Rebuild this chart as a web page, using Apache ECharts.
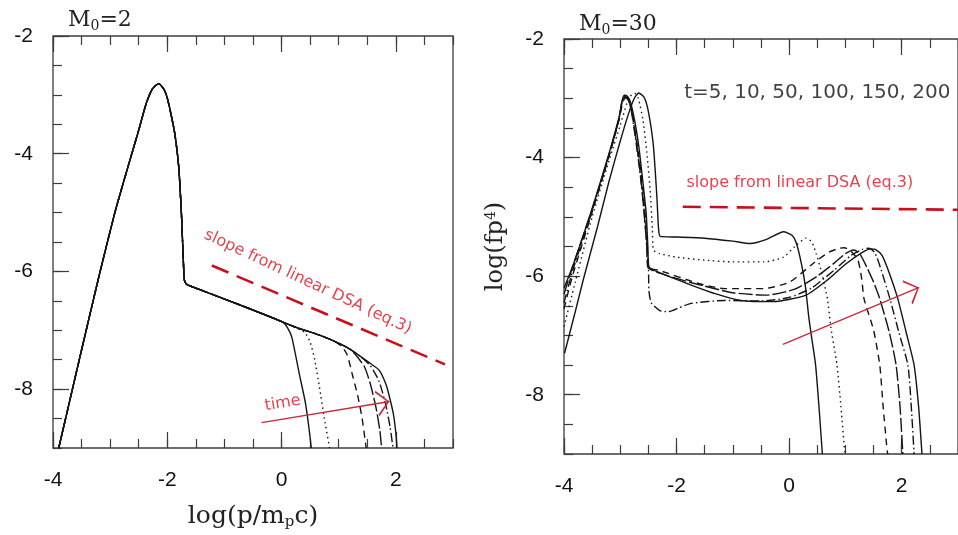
<!DOCTYPE html>
<html><head><meta charset="utf-8">
<script src="https://cdn.jsdelivr.net/npm/echarts@6/dist/echarts.min.js"></script>
<style>html,body{margin:0;padding:0;background:#fff}#c{width:958px;height:535px}</style>
</head><body><div id="c"></div>
<script>
// ---------- axis settings ----------
const xRange = [-4, 3];
const yRange = [-9, -2];
const xMajorTicks = [-4, -2, 0, 2];
const yMajorTicks = [-8, -6, -4, -2];
const minorStep = 0.5;

// ---------- left panel (M0 = 2) ----------
const L_common = [[-3.9,-9],[-3.6,-7.75],[-3.4,-6.92],[-3.18,-6.02],[-2.92,-5.01],[-2.78,-4.53],[-2.645,-4.08],[-2.5,-3.6],[-2.37,-3.15],[-2.26,-2.9],[-2.15,-2.81],[-2.05,-2.92],[-1.99,-3.09],[-1.87,-3.65],[-1.8,-4.22],[-1.75,-5.07],[-1.72,-5.8],[-1.7,-6.15],[-1.66,-6.22],[-1.43,-6.31],[-0.86,-6.52],[-0.28,-6.74],[0.02,-6.86]];
const L_t5   = [[0.1,-6.95],[0.18,-7.12],[0.31,-7.74],[0.42,-8.25],[0.52,-9]];
const L_t10  = [[0.2,-6.94],[0.4,-7.03],[0.5,-7.2],[0.58,-7.5],[0.66,-7.95],[0.75,-8.5],[0.84,-9]];
const L_t50  = [[0.31,-6.97],[0.6,-7.06],[0.89,-7.17],[1.05,-7.27],[1.15,-7.42],[1.24,-7.76],[1.33,-8.1],[1.41,-8.5],[1.48,-9]];
const L_t100 = [[0.31,-6.97],[0.6,-7.06],[0.89,-7.17],[1.18,-7.31],[1.3,-7.42],[1.45,-7.62],[1.55,-7.9],[1.65,-8.3],[1.72,-8.7],[1.75,-9]];
const L_t150 = [[0.31,-6.97],[0.6,-7.06],[0.89,-7.17],[1.18,-7.31],[1.36,-7.43],[1.55,-7.6],[1.7,-7.85],[1.82,-8.25],[1.9,-8.65],[1.95,-9]];
const L_t200 = [[0.31,-6.97],[0.6,-7.06],[0.89,-7.17],[1.18,-7.31],[1.36,-7.43],[1.55,-7.56],[1.71,-7.68],[1.82,-7.9],[1.88,-8.1],[1.96,-8.44],[2.0,-8.75],[2.02,-9]];
const L_slope = [[-1.22,-5.9],[2.86,-7.58]];
const L_arrow = [[-0.35,-8.57],[1.89,-8.21]];
const L_slopeText = [0.46,-6.18];
const L_timeText = [0.02,-8.24];

// ---------- right panel (M0 = 30) ----------
const R_t5   = [[-3.99,-7.3],[-3.8,-6.6],[-3.66,-6.07],[-3.4,-5.15],[-3.2,-4.4],[-3.0,-3.72],[-2.85,-3.25],[-2.75,-3.0],[-2.67,-2.91],[-2.58,-2.98],[-2.52,-3.14],[-2.46,-3.45],[-2.41,-3.82],[-2.35,-4.66],[-2.32,-5.2],[-2.29,-5.33],[-2.0,-5.34],[-1.5,-5.36],[-1.0,-5.41],[-0.69,-5.45],[-0.4,-5.38],[-0.1,-5.25],[0.05,-5.31],[0.13,-5.45],[0.22,-5.8],[0.29,-6.18],[0.35,-6.7],[0.41,-7.1],[0.47,-7.5],[0.53,-8.2],[0.59,-9]];
const R_t10  = [[-4,-6.85],[-3.8,-6.1],[-3.5,-5.0],[-3.2,-4.05],[-3.0,-3.45],[-2.88,-3.08],[-2.8,-2.94],[-2.74,-2.92],[-2.68,-3.0],[-2.6,-3.35],[-2.53,-3.9],[-2.47,-4.55],[-2.43,-5.2],[-2.41,-5.56],[-2.3,-5.62],[-2.0,-5.68],[-1.5,-5.73],[-1.0,-5.76],[-0.45,-5.76],[-0.1,-5.68],[0.1,-5.5],[0.3,-5.36],[0.4,-5.42],[0.48,-5.62],[0.58,-5.95],[0.68,-6.38],[0.74,-6.86],[0.85,-7.5],[0.92,-8.2],[0.99,-9]];
const R_t50  = [[-4,-6.55],[-3.85,-6.0],[-3.5,-4.92],[-3.2,-3.98],[-3.02,-3.36],[-2.96,-3.08],[-2.91,-2.99],[-2.85,-3.04],[-2.78,-3.3],[-2.7,-3.78],[-2.62,-4.35],[-2.56,-4.95],[-2.52,-5.5],[-2.5,-5.86],[-2.32,-5.9],[-1.62,-6.12],[-1.15,-6.21],[-0.45,-6.21],[0.01,-6.1],[0.42,-5.79],[0.7,-5.6],[0.89,-5.53],[0.98,-5.52],[1.1,-5.58],[1.22,-5.72],[1.29,-6.05],[1.33,-6.38],[1.5,-6.91],[1.61,-7.5],[1.67,-8.2],[1.73,-8.83],[1.75,-9]];
const R_t100 = [[-4,-6.3],[-3.85,-5.85],[-3.5,-4.87],[-3.2,-3.95],[-3.02,-3.33],[-2.97,-3.07],[-2.92,-2.97],[-2.86,-3.0],[-2.8,-3.2],[-2.72,-3.7],[-2.64,-4.3],[-2.58,-4.9],[-2.53,-5.5],[-2.51,-5.85],[-2.3,-5.95],[-1.7,-6.12],[-1.0,-6.28],[-0.4,-6.32],[0.1,-6.22],[0.5,-6.0],[0.8,-5.78],[1.0,-5.62],[1.15,-5.56],[1.26,-5.63],[1.38,-5.85],[1.5,-6.1],[1.61,-6.38],[1.78,-6.95],[1.9,-7.5],[1.97,-8.2],[2.02,-9]];
const R_t150 = [[-4,-6.45],[-3.85,-5.92],[-3.5,-4.9],[-3.2,-3.96],[-3.02,-3.34],[-2.97,-3.07],[-2.93,-2.98],[-2.87,-3.0],[-2.81,-3.18],[-2.73,-3.68],[-2.65,-4.25],[-2.58,-4.85],[-2.53,-5.45],[-2.5,-5.85],[-2.49,-6.25],[-2.45,-6.45],[-2.3,-6.58],[-2.15,-6.6],[-1.95,-6.53],[-1.74,-6.46],[-1.15,-6.41],[-0.5,-6.42],[0.0,-6.36],[0.4,-6.2],[0.8,-5.9],[1.1,-5.65],[1.3,-5.55],[1.41,-5.53],[1.52,-5.6],[1.62,-5.85],[1.79,-6.38],[1.95,-6.95],[2.11,-7.5],[2.17,-8.2],[2.22,-9]];
const R_t200 = [[-4,-6.2],[-3.84,-5.82],[-3.49,-4.83],[-3.2,-3.93],[-3.02,-3.31],[-2.97,-3.05],[-2.93,-2.95],[-2.87,-2.97],[-2.82,-3.06],[-2.74,-3.4],[-2.67,-3.82],[-2.6,-4.4],[-2.54,-4.94],[-2.51,-5.5],[-2.49,-5.84],[-2.2,-5.98],[-1.74,-6.15],[-1.3,-6.3],[-0.86,-6.41],[-0.28,-6.43],[0.3,-6.32],[0.7,-6.05],[1.0,-5.8],[1.3,-5.6],[1.45,-5.54],[1.53,-5.55],[1.65,-5.65],[1.78,-5.95],[1.93,-6.38],[2.08,-6.95],[2.22,-7.5],[2.3,-8.2],[2.36,-9]];
const R_slope = [[-1.89,-4.83],[3.0,-4.88]];
const R_arrow = [[-0.11,-7.15],[2.31,-6.19]];
const R_timesText = [0.5,-2.91];
const R_slopeText = [0.19,-4.43];

// ---------- texts ----------
const titleL = '{m|M}{s|0}{m|=2}';
const titleR = '{m|M}{s|0}{m|=30}';
const xName = '{a|log(p/m}{s|p}{a|c)}';
const yName = '{a|log(fp}{u|4}{a|)}';
const timesLabel = 't=5, 10, 50, 100, 150, 200';
const slopeLabel = 'slope from linear DSA (eq.3)';
const timeLabel = 'time';

// ---------- styles ----------
const INK = '#141414';
const AX = '#3c3c3c';
const RED = '#de1320';
const styles = {
  t5:   {type:'solid'},
  t10:  {type:[1.5,3.5]},
  t50:  {type:[7,5]},
  t100: {type:[14,3]},
  t150: {type:[9,3,1.5,3]},
  t200: {type:'solid'}
};
const chevron = 'path://M0,-13 L0.01,-13 Z M0,0 L7,12 L6,12.7 L0,1.9 L-6,12.7 L-7,12 Z';
const serif = 'DejaVu Serif';
const richTitle = {m:{fontFamily:serif, fontSize:22, fontWeight:'normal', color:'#222', lineHeight:26},
                   s:{fontFamily:serif, fontSize:14, fontWeight:'normal', color:'#222', verticalAlign:'bottom', lineHeight:10}};

function noLine() { return {show:false, onZero:false}; }
function axesX(g, withLabels, name) {
  const base = {gridIndex:g, type:'value', min:xRange[0], max:xRange[1], splitLine:{show:false}, axisLine:noLine()};
  const tickStyle = {color:AX, width:1.2};
  return [
    Object.assign({}, base, {position:'bottom', interval:minorStep, axisTick:{inside:true, length:9, lineStyle:tickStyle}, axisLabel:{show:false}}),
    Object.assign({}, base, {position:'bottom', axisTick:{inside:true, length:16, customValues:xMajorTicks, lineStyle:tickStyle},
      axisLabel:{show:withLabels, customValues:xMajorTicks, margin:22, fontFamily:'Liberation Sans', fontSize:21, color:'#111'},
      name: name || '', nameLocation:'middle', nameGap:54,
      nameTextStyle:{rich:{a:{fontFamily:serif, fontSize:25, color:'#222', lineHeight:28}, s:{fontFamily:serif, fontSize:15, color:'#222', verticalAlign:'bottom', lineHeight:8}}}}),
    Object.assign({}, base, {position:'top', interval:minorStep, axisTick:{inside:true, length:9, lineStyle:tickStyle}, axisLabel:{show:false}}),
    Object.assign({}, base, {position:'top', axisTick:{inside:true, length:16, customValues:xMajorTicks, lineStyle:tickStyle}, axisLabel:{show:false}})
  ];
}
function axesY(g, name) {
  const base = {gridIndex:g, type:'value', min:yRange[0], max:yRange[1], splitLine:{show:false}, axisLine:noLine(), position:'left'};
  const tickStyle = {color:AX, width:1.2};
  return [
    Object.assign({}, base, {interval:minorStep, axisTick:{inside:true, length:9, lineStyle:tickStyle}, axisLabel:{show:false}}),
    Object.assign({}, base, {axisTick:{inside:true, length:16, customValues:yMajorTicks, lineStyle:tickStyle},
      axisLabel:{customValues:yMajorTicks, margin:20, fontFamily:'Liberation Sans', fontSize:21, color:'#111', padding:[8,0,0,0]},
      name: name || '', nameLocation:'middle', nameGap:56,
      nameTextStyle:{rich:{a:{fontFamily:serif, fontSize:24, color:'#222'}, u:{fontFamily:serif, fontSize:14, color:'#222', verticalAlign:'top', lineHeight:14}}}})
  ];
}

function curve(g, data, st) {
  return {type:'line', xAxisIndex:g*4+1, yAxisIndex:g*2+1, data:data, symbol:'none', smooth:0.2, silent:true,
    lineStyle:{color:INK, width:1.4, type:st.type}, z:3};
}
function dashed(g, data) {
  return {type:'line', xAxisIndex:g*4+1, yAxisIndex:g*2+1, data:data, symbol:'none', silent:true,
    lineStyle:{color:'#c8101c', width:2.6, type:[18,9]}, z:4};
}
function arrow(g, data) {
  return {type:'lines', coordinateSystem:'cartesian2d', xAxisIndex:g*4+1, yAxisIndex:g*2+1, silent:true,
    symbol:['none', chevron], symbolSize:[14,26],
    lineStyle:{color:'#c8283a', width:1.3, opacity:1, curveness:0},
    data:[{coords:data}], z:5};
}
function text(g, pos, label, opts) {
  return {type:'scatter', xAxisIndex:g*4+1, yAxisIndex:g*2+1, silent:true, symbolSize:0, data:[pos], z:6,
    label:Object.assign({show:true, position:'inside', formatter:label}, opts)};
}

const series = [
  curve(0, L_common.concat(L_t5), styles.t5),
  curve(0, L_common.concat(L_t10), styles.t10),
  curve(0, L_common.concat(L_t50), styles.t50),
  curve(0, L_common.concat(L_t100), styles.t100),
  curve(0, L_common.concat(L_t150), styles.t150),
  curve(0, L_common.concat(L_t200), styles.t200),
  dashed(0, L_slope),
  arrow(0, L_arrow),
  text(0, L_slopeText, slopeLabel, {rotate:-25, fontFamily:'DejaVu Sans', fontSize:16, color:RED}),
  text(0, L_timeText, timeLabel, {rotate:9, fontFamily:'DejaVu Sans', fontSize:16, color:RED}),
  curve(1, R_t5, styles.t5),
  curve(1, R_t10, styles.t10),
  curve(1, R_t50, styles.t50),
  curve(1, R_t100, styles.t100),
  curve(1, R_t150, styles.t150),
  curve(1, R_t200, styles.t200),
  dashed(1, R_slope),
  arrow(1, R_arrow),
  text(1, R_timesText, timesLabel, {fontFamily:'DejaVu Sans', fontSize:20, color:'#111'}),
  text(1, R_slopeText, slopeLabel, {fontFamily:'DejaVu Sans', fontSize:16, color:RED})
];

const option = {
  animation:false,
  backgroundColor:'#ffffff',
  title:[
    {text:titleL, left:63, top:2, textStyle:{fontWeight:'normal', rich:richTitle}},
    {text:titleR, left:574, top:6, textStyle:{fontWeight:'normal', rich:richTitle}}
  ],
  grid:[
    {left:53, top:36, width:400, height:412, show:true, borderColor:AX, borderWidth:1.3, backgroundColor:'transparent'},
    {left:564, top:39, width:400, height:415, show:true, borderColor:AX, borderWidth:1.3, backgroundColor:'transparent'}
  ],
  xAxis: axesX(0, true, xName).concat(axesX(1, true, '')),
  yAxis: axesY(0, '').concat(axesY(1, yName)),
  series: series
};
const chart = echarts.init(document.getElementById('c'), null, {renderer:'canvas'});
chart.setOption(option);
</script></body></html>
